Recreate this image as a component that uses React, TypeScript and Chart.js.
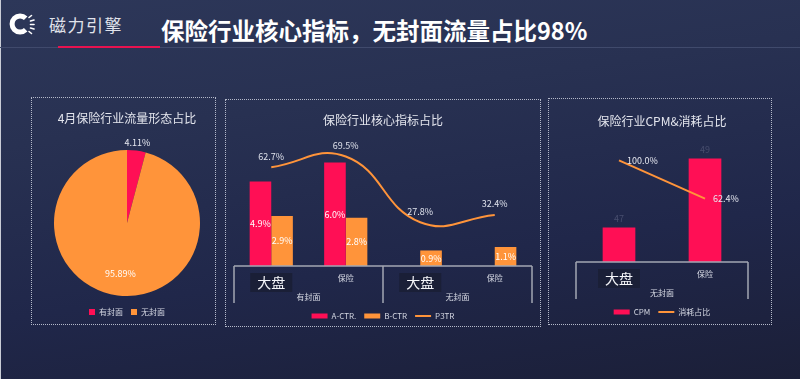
import React, { useEffect, useRef } from 'react';
import { Chart, registerables } from 'chart.js';

Chart.register(...registerables);

// ---------- data ----------
const pieLabels = ['有封面', '无封面'];
const pieValues = [4.11, 95.89];

const coreCategories = ['大盘', '保险', '大盘', '保险'];
const coreGroups = ['有封面', '无封面'];
const aCtrValues: (number | null)[] = [4.9, 6.0, null, null];
const bCtrValues = [2.9, 2.8, 0.9, 1.1];
const p3trValues = [62.7, 69.5, 27.8, 32.4];

const cpmCategories = ['大盘', '保险'];
const cpmGroups = ['无封面'];
const cpmValues = [47, 49];
const spendShareValues = [100.0, 62.4];

// ---------- styles ----------
const FONT = '"Noto Sans CJK SC", "Noto Sans", sans-serif';
const RED = '#ff0f55';
const ORANGE = '#ff943a';
const TITLE_C = '#e4e6ee';
const LEGEND_C = '#d4d7e2';
const AXIS_C = '#a3a6b2';
const BOX_C = '#1a1f37';

function pct(v: number) {
  return v.toFixed(1) + '%';
}

function categoryAxisPlugin(cats: string[], groups: string[]) {
  return {
    id: 'catAxis',
    afterDraw(chart: any) {
      const { ctx, chartArea } = chart;
      const xs = chart.scales.x;
      const base = chartArea.bottom;
      const n = cats.length;
      const per = (chartArea.right - chartArea.left) / n;
      const gSize = n / groups.length;
      ctx.save();
      ctx.strokeStyle = AXIS_C;
      ctx.lineWidth = 1.5;
      ctx.beginPath();
      ctx.moveTo(chartArea.left, base);
      ctx.lineTo(chartArea.right, base);
      for (let g = 0; g <= groups.length; g++) {
        const x = chartArea.left + g * gSize * per;
        ctx.moveTo(x, base);
        ctx.lineTo(x, base + 37);
      }
      ctx.stroke();
      ctx.textAlign = 'center';
      ctx.textBaseline = 'middle';
      cats.forEach((c, i) => {
        const x = xs.getPixelForValue(i);
        if (c === '大盘') {
          ctx.fillStyle = BOX_C;
          ctx.fillRect(x - 21, base + 7, 42, 19);
          ctx.fillStyle = '#f4f5f9';
          ctx.font = `14px ${FONT}`;
          ctx.fillText(c, x, base + 16.5);
        } else {
          ctx.fillStyle = '#d8dbe5';
          ctx.font = `8px ${FONT}`;
          ctx.fillText(c, x, base + 12);
        }
      });
      ctx.fillStyle = '#d8dbe5';
      ctx.font = `8px ${FONT}`;
      groups.forEach((g, k) => {
        const x = chartArea.left + (k + 0.5) * gSize * per;
        ctx.fillText(g, x, base + 31);
      });
      ctx.restore();
    },
  };
}

const pieLabelPlugin = {
  id: 'pieLabels',
  afterDatasetsDraw(chart: any) {
    const { ctx } = chart;
    const meta = chart.getDatasetMeta(0);
    ctx.save();
    ctx.font = `9px ${FONT}`;
    ctx.textAlign = 'center';
    ctx.textBaseline = 'middle';
    meta.data.forEach((arc: any, i: number) => {
      const mid = (arc.startAngle + arc.endAngle) / 2;
      const small = pieValues[i] < 10;
      const r = small ? arc.outerRadius + 8 : arc.outerRadius * 0.7;
      ctx.fillStyle = small ? '#e6e8f0' : '#ffffff';
      ctx.fillText(pieValues[i].toFixed(2) + '%', arc.x + Math.cos(mid) * r, arc.y + Math.sin(mid) * r);
    });
    ctx.restore();
  },
};

const coreLabelPlugin = {
  id: 'coreLabels',
  afterDatasetsDraw(chart: any) {
    const { ctx } = chart;
    ctx.save();
    ctx.font = `9px ${FONT}`;
    ctx.textAlign = 'center';
    ctx.textBaseline = 'middle';
    [0, 1].forEach((di) => {
      const meta = chart.getDatasetMeta(di);
      const vals = di === 0 ? aCtrValues : bCtrValues;
      meta.data.forEach((el: any, i: number) => {
        const v = vals[i];
        if (v == null) return;
        ctx.fillStyle = '#ffffff';
        ctx.fillText(pct(v), el.x, (el.y + el.base) / 2);
      });
    });
    const lm = chart.getDatasetMeta(2);
    lm.data.forEach((el: any, i: number) => {
      ctx.fillStyle = '#dfe2ec';
      ctx.fillText(pct(p3trValues[i]), el.x, el.y - 11);
    });
    ctx.restore();
  },
};

const cpmLabelPlugin = {
  id: 'cpmLabels',
  afterDatasetsDraw(chart: any) {
    const { ctx } = chart;
    ctx.save();
    ctx.font = `9px ${FONT}`;
    ctx.textBaseline = 'middle';
    ctx.textAlign = 'center';
    chart.getDatasetMeta(0).data.forEach((el: any, i: number) => {
      ctx.fillStyle = '#474d6d';
      ctx.fillText(String(cpmValues[i]), el.x, el.y - 9);
    });
    ctx.textAlign = 'left';
    chart.getDatasetMeta(1).data.forEach((el: any, i: number) => {
      ctx.fillStyle = '#e6e8f0';
      ctx.fillText(pct(spendShareValues[i]), el.x + 8, el.y);
    });
    ctx.restore();
  },
};

function titleOpts(text: string, top: number, bottom: number) {
  return {
    display: true,
    text,
    color: TITLE_C,
    font: { family: FONT, size: 12, weight: 'normal' as const },
    padding: { top, bottom },
  };
}

function legendOpts(box: number, boxH: number, usePointStyle = true) {
  return {
    position: 'bottom' as const,
    labels: {
      color: LEGEND_C,
      font: { family: FONT, size: 8 },
      usePointStyle,
      pointStyleWidth: usePointStyle ? box : undefined,
      boxWidth: box,
      boxHeight: boxH,
      padding: 8,
      sort: (a: any, b: any) => a.datasetIndex - b.datasetIndex,
    },
  };
}

export default function App() {
  const pieRef = useRef<HTMLCanvasElement>(null);
  const coreRef = useRef<HTMLCanvasElement>(null);
  const cpmRef = useRef<HTMLCanvasElement>(null);

  useEffect(() => {
    const charts: Chart[] = [];

    const pieLegend = legendOpts(6, 6, false);
    delete (pieLegend.labels as any).sort;

    charts.push(
      new Chart(pieRef.current!, {
        type: 'pie',
        data: {
          labels: pieLabels,
          datasets: [{ data: pieValues, backgroundColor: [RED, ORANGE], borderWidth: 0 } as any],
        },
        options: {
          responsive: false,
          animation: false,
          layout: { padding: { left: 23, right: 16, top: 0, bottom: 11 } },
          plugins: {
            title: titleOpts('4月保险行业流量形态占比', 14, 20.6),
            legend: pieLegend,
            tooltip: { enabled: false },
          },
        } as any,
        plugins: [pieLabelPlugin],
      })
    );

    charts.push(
      new Chart(coreRef.current!, {
        type: 'bar',
        data: {
          labels: coreCategories,
          datasets: [
            { label: 'A-CTR.', data: aCtrValues, backgroundColor: RED, pointStyle: 'rect', yAxisID: 'y', categoryPercentage: 0.58, barPercentage: 1, order: 1 },
            { label: 'B-CTR', data: bCtrValues, backgroundColor: ORANGE, pointStyle: 'rect', yAxisID: 'y', categoryPercentage: 0.58, barPercentage: 1, order: 1 },
            {
              type: 'line',
              label: 'P3TR',
              data: p3trValues,
              yAxisID: 'y1',
              borderColor: ORANGE,
              backgroundColor: ORANGE,
              borderWidth: 2,
              tension: 0.45,
              pointRadius: 0,
              pointStyle: 'line',
              order: 0,
            },
          ] as any,
        },
        options: {
          responsive: false,
          animation: false,
          layout: { padding: { left: 8, right: 8, top: 0, bottom: 9 } },
          scales: {
            x: {
              display: true,
              grid: { display: false },
              border: { display: false },
              ticks: { display: false },
              afterFit: (s: any) => {
                s.height = 38;
              },
            },
            y: { display: false, min: 0, max: 7.3 },
            y1: { display: false, min: 0, max: 80 },
          },
          plugins: {
            title: titleOpts('保险行业核心指标占比', 13.8, 12.8),
            legend: legendOpts(16, 5),
            tooltip: { enabled: false },
          },
        } as any,
        plugins: [categoryAxisPlugin(coreCategories, coreGroups), coreLabelPlugin],
      })
    );

    charts.push(
      new Chart(cpmRef.current!, {
        type: 'bar',
        data: {
          labels: cpmCategories,
          datasets: [
            { label: 'CPM', data: cpmValues, backgroundColor: RED, pointStyle: 'rect', yAxisID: 'y', categoryPercentage: 1, barPercentage: 0.38, order: 1 },
            {
              type: 'line',
              label: '消耗占比',
              data: spendShareValues,
              yAxisID: 'y1',
              borderColor: ORANGE,
              backgroundColor: ORANGE,
              borderWidth: 2,
              tension: 0,
              pointRadius: 0,
              pointStyle: 'line',
              order: 0,
            },
          ] as any,
        },
        options: {
          responsive: false,
          animation: false,
          layout: { padding: { left: 26, right: 24, top: 0, bottom: 13 } },
          scales: {
            x: {
              display: true,
              grid: { display: false },
              border: { display: false },
              ticks: { display: false },
              afterFit: (s: any) => {
                s.height = 38;
              },
            },
            y: { display: false, min: 46, max: 49.68 },
            y1: { display: false, min: 0, max: 125 },
          },
          plugins: {
            title: titleOpts('保险行业CPM&消耗占比', 14.8, 6.8),
            legend: legendOpts(16, 5),
            tooltip: { enabled: false },
          },
        } as any,
        plugins: [categoryAxisPlugin(cpmCategories, cpmGroups), cpmLabelPlugin],
      })
    );

    return () => charts.forEach((c) => c.destroy());
  }, []);

  const panel = (left: number, top: number, width: number, height: number): React.CSSProperties => ({
    position: 'absolute',
    left,
    top,
    width,
    height,
    boxSizing: 'border-box',
    border: '1px dotted #b4b9ca',
  });
  const abs = (left: number, top: number): React.CSSProperties => ({ position: 'absolute', left, top, display: 'block' });

  return (
    <div
      style={{
        position: 'fixed',
        left: 0,
        top: 0,
        width: 800,
        height: 379,
        overflow: 'hidden',
        background: 'linear-gradient(172deg, #2d3759 0%, #283152 30%, #20274a 65%, #1b1f38 100%)',
        fontFamily: FONT,
      }}
    >
      <div style={{ position: 'absolute', left: 0, top: 0, width: 1, height: 379, background: '#c9ccd6' }} />
      {/* logo */}
      <svg style={{ position: 'absolute', left: 9, top: 11 }} width={28} height={28} viewBox="0 0 28 28">
        <path d="M16.7 7.3 A8 8 0 1 0 16.7 18.7" fill="none" stroke="#ffffff" strokeWidth={5} strokeLinecap="butt" />
        <g stroke="#ffffff" strokeWidth={1.6} strokeLinecap="round">
          <line x1="20" y1="6.5" x2="22.5" y2="4.5" />
          <line x1="21.5" y1="10" x2="25" y2="9" />
          <line x1="21.5" y1="13.5" x2="25" y2="13.5" />
          <line x1="21.5" y1="17" x2="25" y2="18" />
          <line x1="20" y1="20.5" x2="22.5" y2="22.5" />
        </g>
      </svg>
      <div
        style={{
          position: 'absolute',
          left: 49,
          top: 13,
          fontSize: 17,
          letterSpacing: 1.5,
          color: '#e0e3eb',
          lineHeight: '24px',
          whiteSpace: 'nowrap',
        }}
      >
        磁力引擎
      </div>
      <div
        style={{
          position: 'absolute',
          left: 161,
          top: 14,
          fontSize: 23.5,
          fontWeight: 'bold',
          color: '#ffffff',
          lineHeight: '32px',
          whiteSpace: 'nowrap',
        }}
      >
        保险行业核心指标，无封面流量占比98%
      </div>
      <div style={{ position: 'absolute', left: 0, top: 47, width: 800, height: 1, background: '#404a6c' }} />
      <div style={{ position: 'absolute', left: 58, top: 46, width: 102, height: 2, background: '#e8124f' }} />

      {/* panels */}
      <div style={panel(31, 97, 185, 228)} />
      <div style={panel(225, 99, 316, 228)} />
      <div style={panel(548, 98, 224, 227)} />

      <canvas ref={pieRef} width={185} height={240} style={abs(31, 97)} />
      <canvas ref={coreRef} width={314} height={240} style={abs(226, 99)} />
      <canvas ref={cpmRef} width={222} height={240} style={abs(550, 99)} />
    </div>
  );
}
